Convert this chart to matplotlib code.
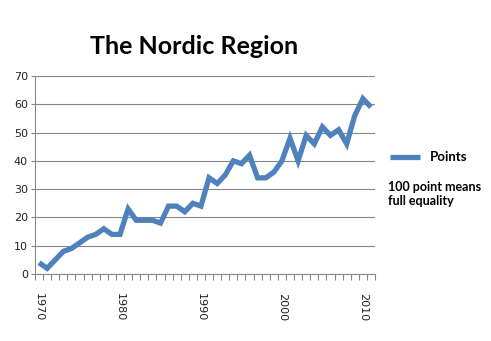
import matplotlib
matplotlib.use("Agg")
import matplotlib.pyplot as plt
import matplotlib.lines as lines

# data
years = list(range(1970, 2012))
points = [4, 2, 5, 8, 9, 11, 13, 14, 16, 14,
          14, 23, 19, 19, 19, 18, 24, 24, 22, 25,
          24, 34, 32, 35, 40, 39, 42, 34, 34, 36,
          40, 48, 40, 49, 46, 52, 49, 51, 46, 56,
          62, 59]
y_ticks = [0, 10, 20, 30, 40, 50, 60, 70]
x_labels = ["1970", "1980", "1990", "2000", "2010"]

line_color = "#4F81BD"

fig = plt.figure(figsize=(4.91, 3.41), dpi=100)
ax = fig.add_axes([35 / 491, 67 / 341, 340 / 491, 198 / 341])

idx = list(range(len(years)))
ax.plot(idx, points, color=line_color, lw=3.8, solid_joinstyle="miter",
        solid_capstyle="butt")

ax.set_xlim(-0.5, len(years) - 0.5)
ax.set_ylim(0, 70)

# y axis
ax.set_yticks(y_ticks)
ax.tick_params(axis="y", length=3, width=0.8, color="#868686",
               labelsize=8, labelcolor="#222222", pad=2)
ax.yaxis.grid(True, color="#868686", lw=0.8)
ax.set_axisbelow(True)

# x axis: tick marks between categories, labels every 10th category
ax.set_xticks([i - 0.5 for i in range(len(years) + 1)], minor=True)
ax.set_xticks([years.index(int(s)) for s in x_labels])
ax.set_xticklabels(x_labels, rotation=-90, fontsize=8, color="#222222")
ax.tick_params(axis="x", which="major", length=0, pad=14)
ax.tick_params(axis="x", which="minor", length=4, width=0.8, color="#868686")

for side in ["top", "right"]:
    ax.spines[side].set_visible(False)
ax.spines["left"].set_color("#868686")
ax.spines["bottom"].set_color("#868686")
ax.spines["left"].set_linewidth(0.8)
ax.spines["bottom"].set_linewidth(0.8)

fig.text(194 / 491, 1 - 46 / 341, "The Nordic Region", ha="center", va="center",
         fontsize=18, fontweight="bold", family="Lato")

# legend drawn by hand
leg = lines.Line2D([390 / 491, 420 / 491], [1 - 157 / 341, 1 - 157 / 341],
                   transform=fig.transFigure, color=line_color, lw=3.8,
                   solid_capstyle="butt")
fig.add_artist(leg)
fig.text(430 / 491, 1 - 157 / 341, "Points", ha="left", va="center",
         fontsize=9.5, fontweight="bold", family="Lato")
fig.text(388 / 491, 1 - 194 / 341, "100 point means\nfull equality", ha="left",
         va="center", fontsize=9, fontweight="bold", family="Lato",
         linespacing=1.25)

fig.savefig("out.png", dpi=100)
